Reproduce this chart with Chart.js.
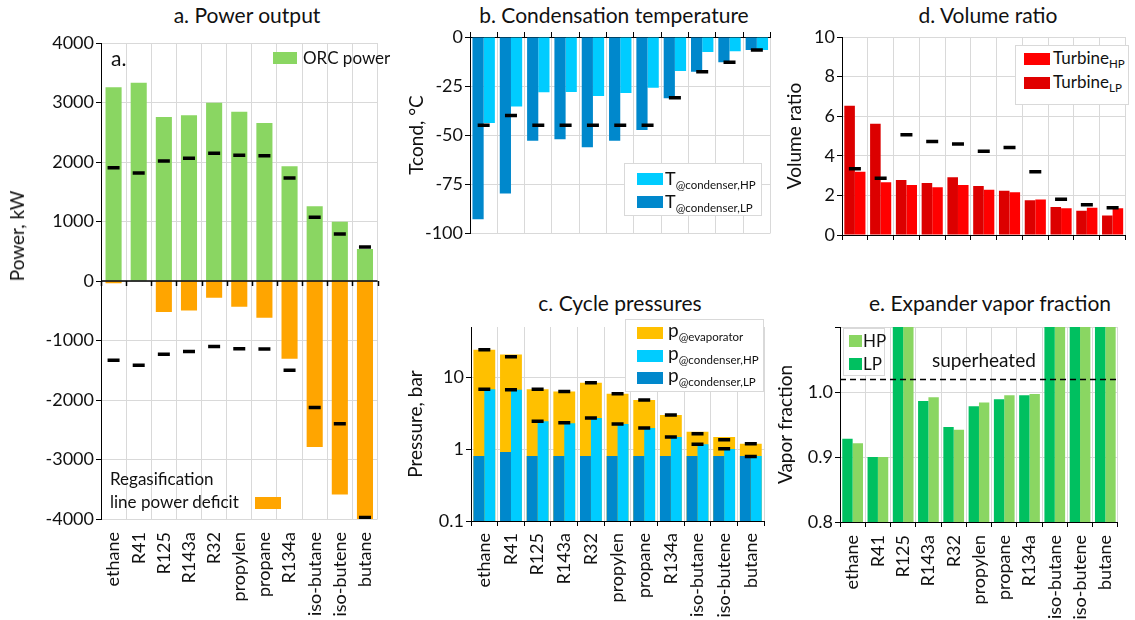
<!DOCTYPE html>
<html>
<head>
<meta charset="utf-8">
<script src="https://cdn.jsdelivr.net/npm/chart.js@4"></script>
<style>
  body { margin: 0; background: #fff; width: 1135px; height: 620px; position: relative; overflow: hidden;
         font-family: Lato, "Open Sans", sans-serif; color: #111; }
  canvas { position: absolute; }
  .title { position: absolute; font-size: 21px; line-height: 24px; white-space: nowrap; transform: translateX(-50%); }
  .box { position: absolute; background: #fff; border: 1px solid #d9d9d9; }
  .sw { position: absolute; }
  .txt { position: absolute; white-space: nowrap; font-size: 17px; line-height: 20px; }
  .txt sub { font-size: 11.5px; vertical-align: -4px; }
  .ytitle { position: absolute; white-space: nowrap; font-size: 19px; line-height: 22px;
            transform: translate(-50%, -50%) rotate(-90deg); }
</style>
</head>
<body>

<div class="title" style="left:247px;top:3px">a. Power output</div>
<div class="title" style="left:614px;top:3px">b. Condensation temperature</div>
<div class="title" style="left:620px;top:291px">c. Cycle pressures</div>
<div class="title" style="left:988px;top:3px">d. Volume ratio</div>
<div class="title" style="left:990px;top:291px">e. Expander vapor fraction</div>

<canvas id="ca" width="400" height="620" style="left:0;top:0"></canvas>
<canvas id="cb" width="385" height="250" style="left:395px;top:0"></canvas>
<canvas id="cc" width="385" height="330" style="left:395px;top:290px"></canvas>
<canvas id="cd" width="365" height="260" style="left:770px;top:0"></canvas>
<canvas id="ce" width="365" height="330" style="left:770px;top:290px"></canvas>

<!-- panel a labels / legend -->
<div class="ytitle" style="left:17px;top:236px">Power, kW</div>
<div class="txt" style="left:111px;top:46px;font-size:21px;line-height:24px">a.</div>
<div class="sw" style="left:273px;top:52px;width:24px;height:12px;background:#8ad662"></div>
<div class="txt" style="left:303px;top:48px">ORC power</div>
<div class="txt" style="left:110px;top:469px">Regasification</div>
<div class="txt" style="left:110px;top:492px">line power deficit</div>
<div class="sw" style="left:255px;top:497px;width:26px;height:12px;background:#ffa500"></div>

<!-- panel b legend -->
<div class="box" style="left:624px;top:163px;width:136px;height:51px"></div>
<div class="sw" style="left:637px;top:173px;width:26px;height:12px;background:#00ccff"></div>
<div class="txt" style="left:665px;top:168px;font-size:18px">T<sub>@condenser,HP</sub></div>
<div class="sw" style="left:637px;top:196px;width:26px;height:12px;background:#0088cc"></div>
<div class="txt" style="left:665px;top:191px;font-size:18px">T<sub>@condenser,LP</sub></div>

<!-- panel c legend -->
<div class="box" style="left:625px;top:319px;width:137px;height:71px"></div>
<div class="sw" style="left:637px;top:327px;width:26px;height:12px;background:#ffc000"></div>
<div class="txt" style="left:668px;top:320px;font-size:19px">p<sub>@evaporator</sub></div>
<div class="sw" style="left:637px;top:350px;width:26px;height:12px;background:#00ccff"></div>
<div class="txt" style="left:668px;top:343px;font-size:19px">p<sub>@condenser,HP</sub></div>
<div class="sw" style="left:637px;top:372px;width:26px;height:12px;background:#0088cc"></div>
<div class="txt" style="left:668px;top:365px;font-size:19px">p<sub>@condenser,LP</sub></div>

<!-- panel d legend -->
<div class="box" style="left:1015px;top:45px;width:112px;height:58px"></div>
<div class="sw" style="left:1024px;top:53px;width:26px;height:12px;background:#ff0000"></div>
<div class="txt" style="left:1053px;top:48px">Turbine<sub>HP</sub></div>
<div class="sw" style="left:1024px;top:77px;width:26px;height:12px;background:#e00000"></div>
<div class="txt" style="left:1053px;top:72px">Turbine<sub>LP</sub></div>

<!-- panel e legend -->
<div class="box" style="left:843px;top:328px;width:40px;height:46px"></div>
<div class="sw" style="left:849px;top:335px;width:13px;height:12px;background:#8ad662"></div>
<div class="txt" style="left:863px;top:331px">HP</div>
<div class="sw" style="left:849px;top:358px;width:13px;height:12px;background:#00c060"></div>
<div class="txt" style="left:863px;top:354px">LP</div>
<div class="txt" style="left:932px;top:350px;font-size:19px">superheated</div>

<script>
const fluids = ['ethane', 'R41', 'R125', 'R143a', 'R32', 'propylen', 'propane', 'R134a', 'iso-butane', 'iso-butene', 'butane'];

// a. power output, kW
const orcPower = [3255, 3333, 2756, 2784, 2997, 2846, 2655, 1927, 1255, 997, 538];
const orcPowerRef = [1905, 1815, 2017, 2062, 2146, 2112, 2106, 1731, 1070, 790, 571];
const regasDeficit = [-39, 0, -522, -494, -283, -433, -617, -1306, -2789, -3589, -4030];
const regasDeficitRef = [-1333, -1417, -1233, -1183, -1100, -1139, -1144, -1500, -2128, -2400, -3975];

// b. condensation temperature, C
const tCondLP = [-93.0, -79.9, -52.9, -52.2, -56.3, -52.9, -47.4, -31.3, -17.7, -12.9, -6.6];
const tCondHP = [-43.9, -35.5, -28.2, -28.1, -30.1, -28.6, -25.9, -17.3, -7.7, -7.3, -6.6];
const tCondRef = [-45, -40, -45, -45, -45, -45, -45, -31, -17.7, -12.9, -6.6];

// c. cycle pressures, bar
const pEvap = [24.1, 20.8, 6.82, 6.34, 8.35, 5.89, 4.81, 2.99, 1.74, 1.48, 1.19];
const pEvapRef = [24.1, 19.3, 6.82, 6.34, 8.35, 5.89, 4.81, 2.99, 1.63, 1.35, 1.19];
const pCondHP = [6.82, 6.68, 2.44, 2.29, 2.71, 2.24, 1.97, 1.47, 1.17, 1.0, 0.8];
const pCondHPRef = [6.8, 6.7, 2.44, 2.32, 2.71, 2.24, 1.97, 1.47, 1.17, 1.01, 0.79];
const pCondLP = [0.80, 0.91, 0.80, 0.80, 0.80, 0.80, 0.80, 0.80, 0.80, 0.80, 0.80];
const pTicks = [0.1, 1, 10];

// d. volume ratio
const vrLP = [6.53, 5.62, 2.78, 2.63, 2.92, 2.48, 2.24, 1.75, 1.42, 1.23, 0.99];
const vrHP = [3.19, 2.66, 2.53, 2.41, 2.53, 2.29, 2.16, 1.79, 1.35, 1.37, 1.35];
const vrRef = [3.34, 2.87, 5.06, 4.72, 4.60, 4.23, 4.42, 3.19, 1.80, 1.53, 1.37];

// e. expander vapor fraction
const vfLP = [0.928, 0.900, 1.1, 0.986, 0.946, 0.978, 0.989, 0.995, 1.1, 1.1, 1.1];
const vfHP = [0.921, 0.900, 1.1, 0.992, 0.942, 0.984, 0.995, 0.997, 1.1, 1.1, 1.1];
const superheatLevel = 1.02;

Chart.defaults.font.family = 'Lato, "Open Sans", sans-serif';
Chart.defaults.font.size = 18;
Chart.defaults.color = '#111';
Chart.defaults.animation = false;
Chart.defaults.responsive = false;
Chart.defaults.plugins.legend.display = false;
Chart.defaults.plugins.tooltip.enabled = false;

const GRID = '#d9d9d9';
const fixW = w => s => { s.width = w; };
const fixH = h => s => { s.height = h; };

function markers(data) {
  return {
    type: 'line', data: data, showLine: false,
    pointStyle: 'line', pointRadius: 6, pointHoverRadius: 6,
    pointBorderColor: '#000', pointBorderWidth: 3.5, borderColor: '#000',
    order: 0
  };
}

function yAxis(width, title, pad, extra) {
  return Object.assign({
    grid: { color: GRID, tickColor: '#000', tickLength: 5 },
    border: { color: '#000' },
    ticks: { padding: 2 },
    title: { display: !!title, text: title, font: { size: 19 }, padding: { top: pad, bottom: 0 } },
    afterFit: fixW(width)
  }, extra);
}

function xAxisLabels(height, pad) {
  return {
    offset: true,
    grid: { color: GRID, offset: true, tickColor: '#000', tickLength: 5 },
    border: { color: '#000' },
    ticks: { minRotation: 90, maxRotation: 90, padding: pad, autoSkip: false },
    afterFit: fixH(height)
  };
}

function xAxisBare(height, pos) {
  return {
    position: pos, offset: true,
    grid: { color: GRID, offset: true, tickColor: '#000', tickLength: 5 },
    border: { color: '#000' },
    ticks: { display: false },
    afterFit: fixH(height)
  };
}

// black zero line with tick marks for panel a
const zeroAxis = {
  id: 'zeroAxis',
  afterDatasetsDraw(chart) {
    const { ctx, chartArea, scales: { x, y } } = chart;
    const y0 = y.getPixelForValue(0);
    ctx.save();
    ctx.strokeStyle = '#000';
    ctx.lineWidth = 1.5;
    ctx.beginPath();
    ctx.moveTo(chartArea.left, y0);
    ctx.lineTo(chartArea.right, y0);
    for (let i = 0; i <= fluids.length; i++) {
      const px = Math.round(x.getPixelForValue(i - 0.5)) + 0.5;
      ctx.moveTo(px, y0);
      ctx.lineTo(px, y0 + 5);
    }
    ctx.stroke();
    ctx.restore();
  }
};

// dashed superheated threshold for panel e
const superheatLine = {
  id: 'superheatLine',
  afterDatasetsDraw(chart) {
    const { ctx, chartArea, scales: { y } } = chart;
    const py = Math.round(y.getPixelForValue(superheatLevel)) + 0.5;
    ctx.save();
    ctx.strokeStyle = '#000';
    ctx.lineWidth = 1.5;
    ctx.setLineDash([6, 4]);
    ctx.beginPath();
    ctx.moveTo(chartArea.left, py);
    ctx.lineTo(chartArea.right, py);
    ctx.stroke();
    ctx.restore();
  }
};

// a. Power output
new Chart(document.getElementById('ca'), {
  type: 'bar',
  data: {
    labels: fluids,
    datasets: [
      markers(orcPowerRef),
      markers(regasDeficitRef),
      { data: orcPower, backgroundColor: '#8ad662', grouped: false, barPercentage: 0.64, categoryPercentage: 1, order: 2 },
      { data: regasDeficit, backgroundColor: '#ffa500', grouped: false, barPercentage: 0.64, categoryPercentage: 1, order: 2 }
    ]
  },
  options: {
    layout: { padding: { top: 43, right: 5, left: 0, bottom: 0 } },
    scales: {
      x: {
        offset: true,
        grid: { color: GRID, offset: true, drawTicks: false },
        border: { display: false },
        ticks: { minRotation: 90, maxRotation: 90, padding: 13, autoSkip: false },
        afterFit: fixH(101)
      },
      y: yAxis(101, '', 0, {
        min: -4000, max: 4000,
        ticks: { stepSize: 1000, padding: 2, callback: v => String(v) }
      })
    }
  },
  plugins: [zeroAxis]
});

// b. Condensation temperature
new Chart(document.getElementById('cb'), {
  type: 'bar',
  data: {
    labels: fluids,
    datasets: [
      markers(tCondRef),
      { data: tCondLP, backgroundColor: '#0088cc', categoryPercentage: 0.82, barPercentage: 1, order: 2 },
      { data: tCondHP, backgroundColor: '#00ccff', categoryPercentage: 0.82, barPercentage: 1, order: 2 }
    ]
  },
  options: {
    layout: { padding: { top: 0, right: 9, left: 0, bottom: 17 } },
    scales: {
      x: xAxisBare(37, 'top'),
      y: yAxis(75, 'Tcond, °C', 10, { min: -100, max: 0, ticks: { stepSize: 25, padding: 2 } })
    }
  }
});

// c. Cycle pressures
new Chart(document.getElementById('cc'), {
  type: 'bar',
  data: {
    labels: fluids,
    datasets: [
      markers(pEvapRef),
      markers(pCondHPRef),
      { data: pEvap, backgroundColor: '#ffc000', grouped: false, categoryPercentage: 0.82, barPercentage: 1, order: 3 },
      { data: pCondLP, backgroundColor: '#0088cc', categoryPercentage: 0.82, barPercentage: 1, order: 2 },
      { data: pCondHP, backgroundColor: '#00ccff', categoryPercentage: 0.82, barPercentage: 1, order: 2 }
    ]
  },
  options: {
    layout: { padding: { top: 37, right: 13, left: 0, bottom: 0 } },
    scales: {
      x: xAxisLabels(99, 7),
      y: yAxis(76, 'Pressure, bar', 9, {
        type: 'logarithmic', min: 0.1, max: 50,
        afterBuildTicks: s => { s.ticks = pTicks.map(v => ({ value: v })); },
        ticks: { padding: 2, callback: v => String(v) }
      })
    }
  }
});

// d. Volume ratio
new Chart(document.getElementById('cd'), {
  type: 'bar',
  data: {
    labels: fluids,
    datasets: [
      markers(vrRef),
      { data: vrLP, backgroundColor: '#dc0000', categoryPercentage: 0.82, barPercentage: 1, order: 2 },
      { data: vrHP, backgroundColor: '#ff0000', categoryPercentage: 0.82, barPercentage: 1, order: 2 }
    ]
  },
  options: {
    layout: { padding: { top: 37, right: 2, left: 0, bottom: 0 } },
    scales: {
      x: xAxisBare(25, 'bottom'),
      y: yAxis(72, 'Volume ratio', 13, { min: 0, max: 10, ticks: { stepSize: 2, padding: 2 } })
    }
  }
});

// e. Expander vapor fraction
new Chart(document.getElementById('ce'), {
  type: 'bar',
  data: {
    labels: fluids,
    datasets: [
      { data: vfLP, backgroundColor: '#00c060', categoryPercentage: 0.82, barPercentage: 1 },
      { data: vfHP, backgroundColor: '#8ad662', categoryPercentage: 0.82, barPercentage: 1 }
    ]
  },
  options: {
    layout: { padding: { top: 37, right: 2, left: 0, bottom: 0 } },
    scales: {
      x: xAxisLabels(98, 8),
      y: yAxis(70, 'Vapor fraction', 4, {
        min: 0.8, max: 1.1,
        ticks: { stepSize: 0.1, padding: 2, callback: v => (v > 1.05 ? '' : v.toFixed(1)) }
      })
    }
  },
  plugins: [superheatLine]
});
</script>
</body>
</html>
